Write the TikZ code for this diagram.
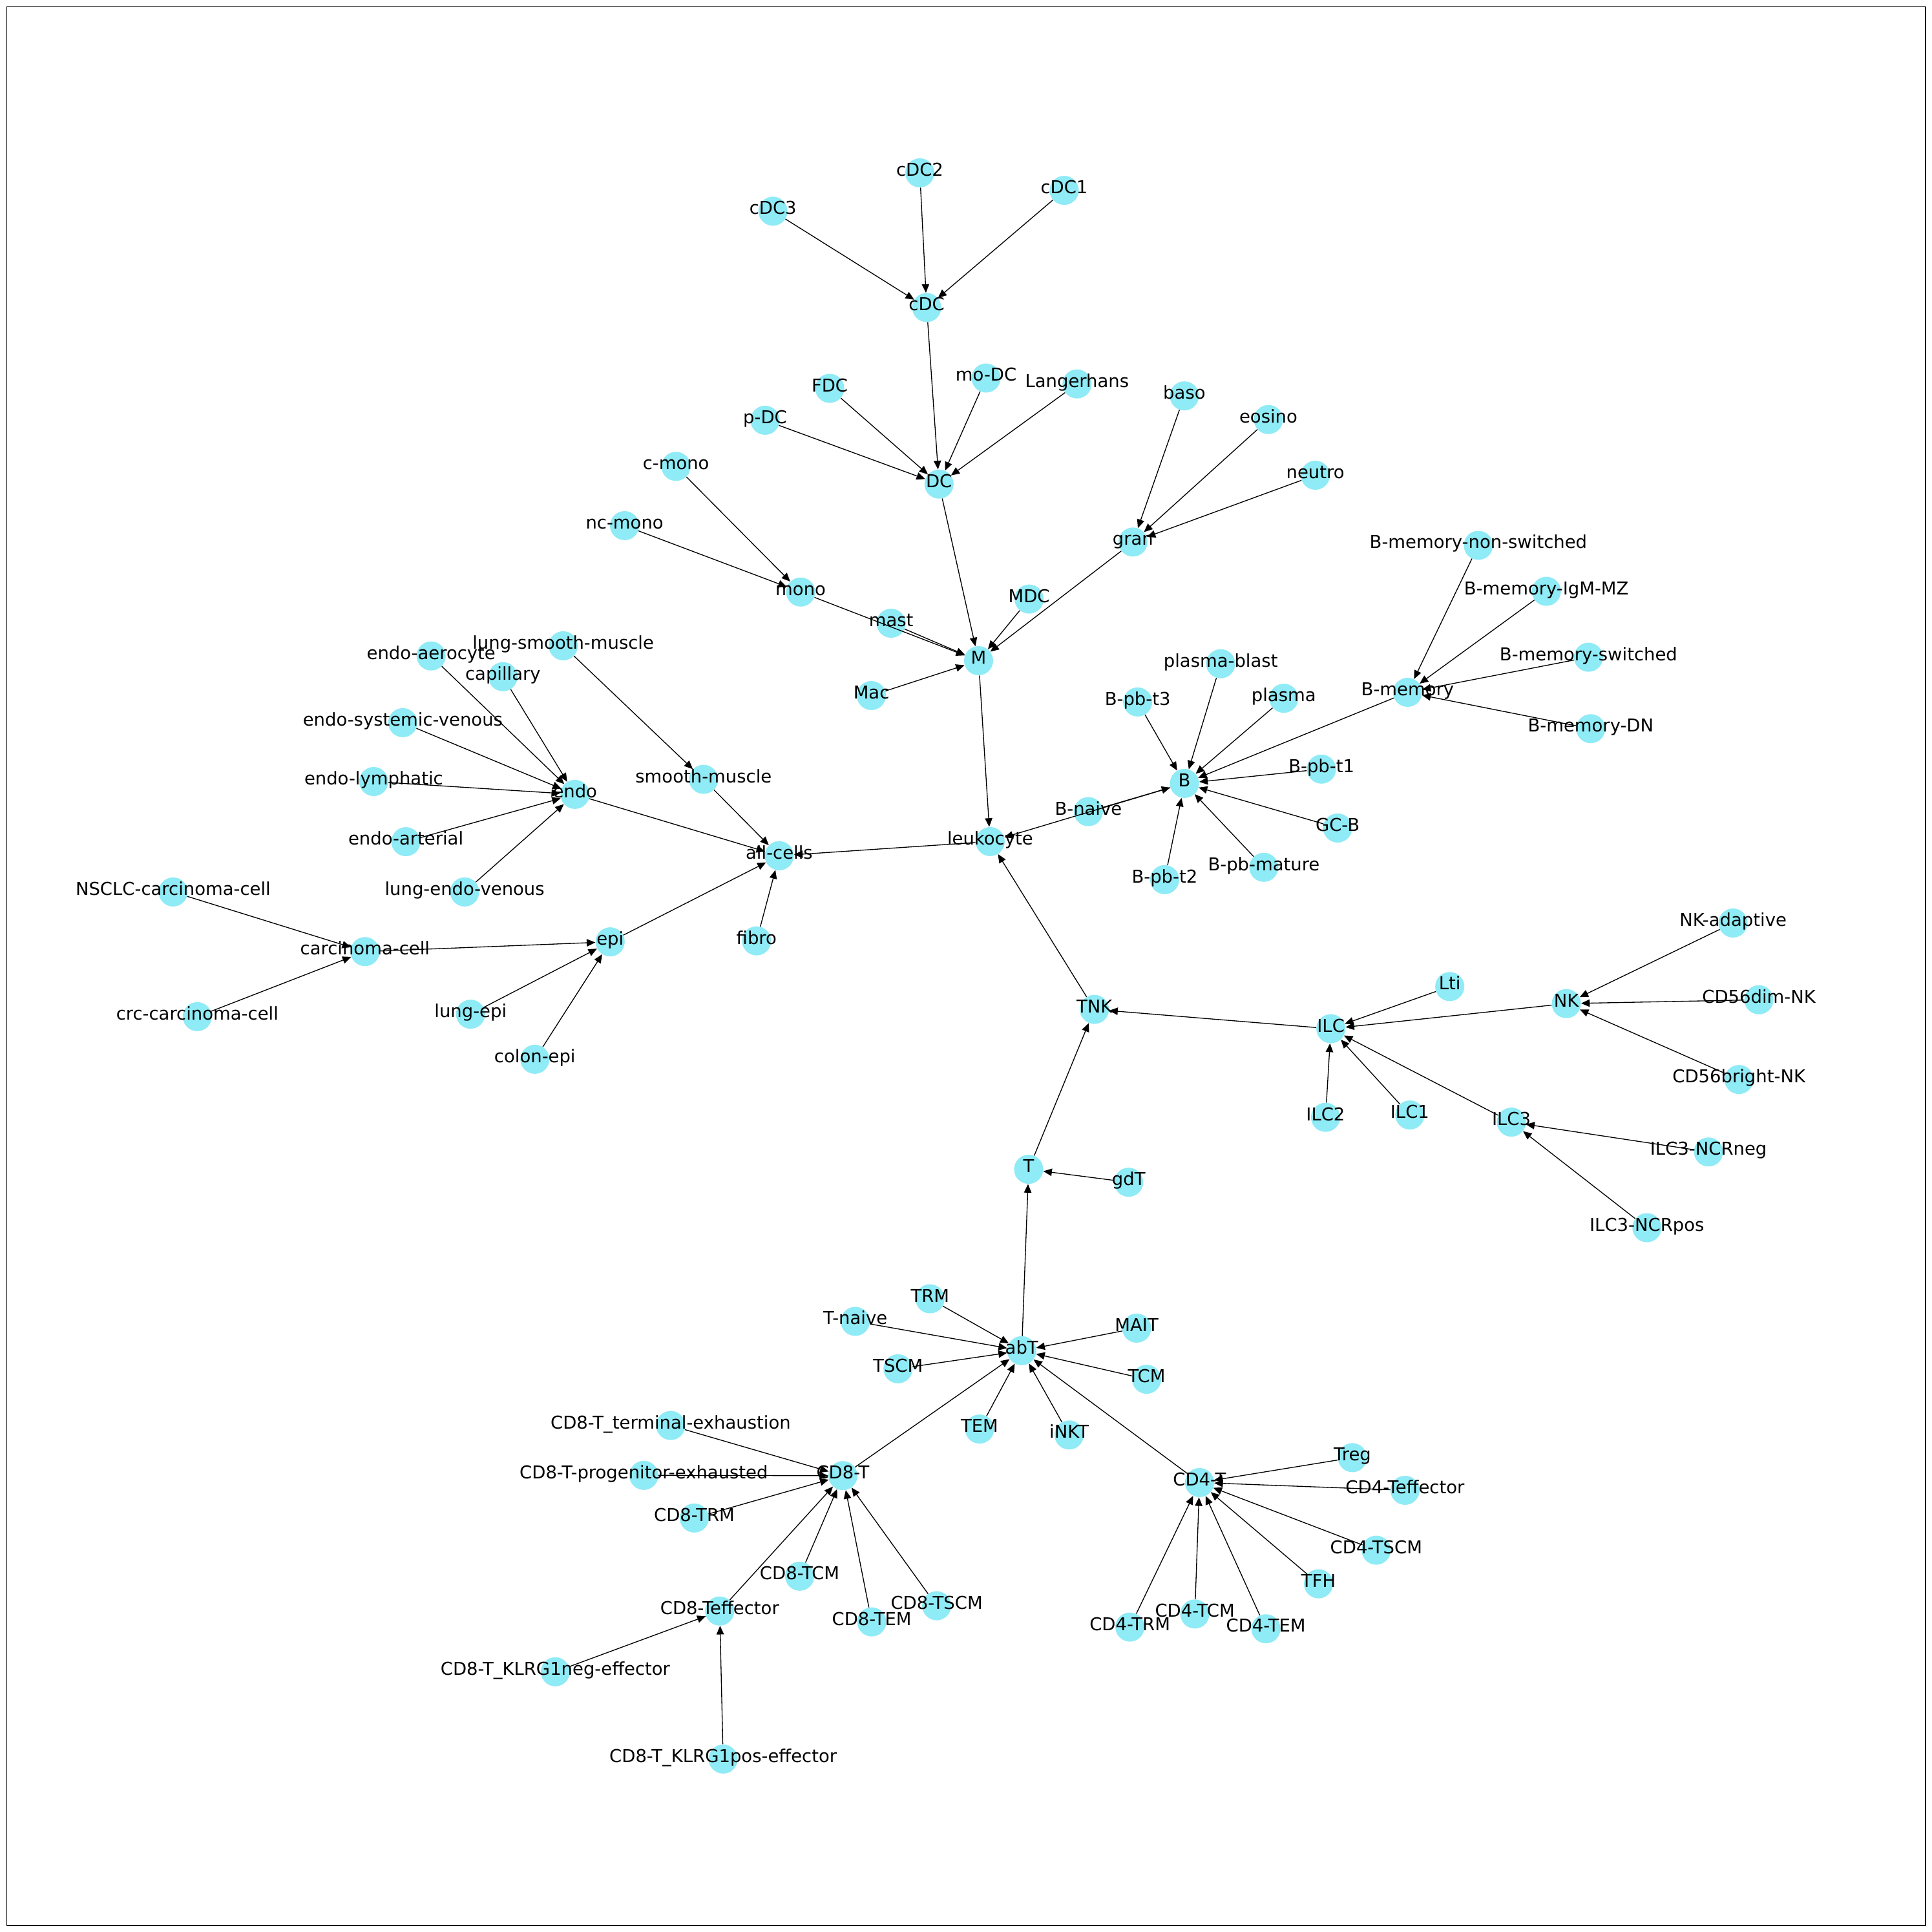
\documentclass[tikz,border=0pt]{standalone}
\usepackage{fontspec}
\setmainfont{DejaVu Sans}
\usetikzlibrary{arrows.meta}
\definecolor{nodecyan}{RGB}{143,235,245}
\begin{document}
\begin{tikzpicture}[x=1pt,y=-1pt,
  dot/.style={circle,fill=nodecyan,draw=none,minimum size=23.6pt,inner sep=0pt},
  lbl/.style={inner sep=0pt,text height=0.76em,text depth=0.24em,font=\fontsize{14.4pt}{17pt}\selectfont},
  link/.style={line width=0.7pt,-{Triangle[length=7pt,width=6pt]}},
  frame/.style={line width=0.9pt}]
\useasboundingbox[fill=white] (0,0) rectangle (1568,1568);
\draw[frame] (5.5,5.5) rectangle (1562.7,1562.7);
% nodes
\node[dot] (cDC2) at (746.5,140.3) {};
\node[dot] (cDC1) at (863.7,154.5) {};
\node[dot] (cDC3) at (627.3,171.4) {};
\node[dot] (cDC) at (752.1,249.6) {};
\node[dot] (FDC) at (673.4,315.2) {};
\node[dot] (moDC) at (800.3,306.8) {};
\node[dot] (Langerhans) at (874.1,311.6) {};
\node[dot] (pDC) at (620.9,341.1) {};
\node[dot] (DC) at (762.1,392.9) {};
\node[dot] (baso) at (961.2,321.3) {};
\node[dot] (eosino) at (1029.4,340.5) {};
\node[dot] (neutro) at (1067.5,385.7) {};
\node[dot] (gran) at (919.5,439.9) {};
\node[dot] (cmono) at (548.6,378.5) {};
\node[dot] (ncmono) at (506.9,426.6) {};
\node[dot] (mono) at (649.8,480.5) {};
\node[dot] (mast) at (723.2,505.8) {};
\node[dot] (MDC) at (835.2,486.2) {};
\node[dot] (M) at (794.2,536.2) {};
\node[dot] (Mac) at (707.2,564.5) {};
\node[dot] (Bmemns) at (1199.8,442.6) {};
\node[dot] (BmemIgM) at (1255.0,479.9) {};
\node[dot] (Bmemsw) at (1289.2,533.4) {};
\node[dot] (Bmem) at (1142.4,561.9) {};
\node[dot] (BmemDN) at (1291.0,591.4) {};
\node[dot] (plasmablast) at (990.7,538.7) {};
\node[dot] (plasma) at (1041.9,566.7) {};
\node[dot] (Bpbt3) at (923.3,569.7) {};
\node[dot] (Bpbt1) at (1072.5,624.2) {};
\node[dot] (B) at (961.3,635.8) {};
\node[dot] (GCB) at (1085.6,672.0) {};
\node[dot] (Bnaive) at (883.3,658.7) {};
\node[dot] (leuk) at (803.6,683.0) {};
\node[dot] (Bpbt2) at (945.2,713.9) {};
\node[dot] (Bpbmature) at (1025.7,703.9) {};
\node[dot] (endoaero) at (349.9,532.4) {};
\node[dot] (lungsm) at (457.1,524.1) {};
\node[dot] (capillary) at (408.2,549.2) {};
\node[dot] (endosys) at (326.9,586.5) {};
\node[dot] (endolymph) at (303.3,634.3) {};
\node[dot] (endo) at (466.6,644.7) {};
\node[dot] (smoothm) at (571.0,632.5) {};
\node[dot] (endoart) at (329.4,683.1) {};
\node[dot] (allcells) at (632.4,694.5) {};
\node[dot] (lungendoven) at (377.1,723.9) {};
\node[dot] (nsclc) at (140.5,723.9) {};
\node[dot] (carcinoma) at (296.2,772.3) {};
\node[dot] (epi) at (495.2,764.4) {};
\node[dot] (fibro) at (614.0,763.6) {};
\node[dot] (crc) at (160.1,825.1) {};
\node[dot] (lungepi) at (381.9,823.1) {};
\node[dot] (colonepi) at (434.1,859.7) {};
\node[dot] (TNK) at (888.2,819.2) {};
\node[dot] (ILC) at (1080.1,834.9) {};
\node[dot] (Lti) at (1176.6,800.7) {};
\node[dot] (NK) at (1271.2,814.5) {};
\node[dot] (NKadapt) at (1406.5,749.1) {};
\node[dot] (CDdim) at (1427.5,811.4) {};
\node[dot] (CDbright) at (1411.3,876.1) {};
\node[dot] (ILC2) at (1075.8,906.8) {};
\node[dot] (ILC1) at (1144.2,904.9) {};
\node[dot] (ILC3) at (1226.6,910.7) {};
\node[dot] (ILC3neg) at (1386.6,934.9) {};
\node[dot] (ILC3pos) at (1336.6,996.4) {};
\node[dot] (T) at (834.8,949.0) {};
\node[dot] (gdT) at (916.0,959.5) {};
\node[dot] (TRM) at (754.8,1054.1) {};
\node[dot] (Tnaive) at (694.1,1072.4) {};
\node[dot] (MAIT) at (922.5,1077.9) {};
\node[dot] (abT) at (829.2,1096.2) {};
\node[dot] (TSCM) at (728.8,1110.9) {};
\node[dot] (TCM) at (930.6,1119.4) {};
\node[dot] (TEM) at (795.0,1159.8) {};
\node[dot] (iNKT) at (867.7,1164.6) {};
\node[dot] (CD8term) at (544.3,1156.9) {};
\node[dot] (CD8prog) at (522.5,1197.4) {};
\node[dot] (CD8T) at (684.1,1197.6) {};
\node[dot] (CD8TRM) at (563.5,1232.0) {};
\node[dot] (Treg) at (1097.6,1183.0) {};
\node[dot] (CD4T) at (973.5,1203.2) {};
\node[dot] (CD4Teff) at (1140.3,1209.5) {};
\node[dot] (CD4TSCM) at (1116.9,1258.1) {};
\node[dot] (TFH) at (1070.1,1285.4) {};
\node[dot] (CD8TCM) at (649.0,1279.2) {};
\node[dot] (CD8TSCM) at (760.2,1303.2) {};
\node[dot] (CD8TEM) at (707.5,1316.3) {};
\node[dot] (CD8Teff) at (584.1,1307.5) {};
\node[dot] (CD4TRM) at (917.0,1320.5) {};
\node[dot] (CD4TCM) at (969.7,1309.9) {};
\node[dot] (CD4TEM) at (1027.4,1321.9) {};
\node[dot] (KLRGneg) at (450.7,1356.8) {};
\node[dot] (KLRGpos) at (586.9,1427.6) {};
% edges (child -> parent)
\foreach \s/\t in {cDC2/cDC, cDC1/cDC, cDC3/cDC, cDC/DC, FDC/DC, moDC/DC, Langerhans/DC, pDC/DC,
  DC/M, baso/gran, eosino/gran, neutro/gran, gran/M, cmono/mono, ncmono/mono, mono/M, mast/M, MDC/M, Mac/M,
  M/leuk, Bmemns/Bmem, BmemIgM/Bmem, Bmemsw/Bmem, BmemDN/Bmem, Bmem/B, plasmablast/B, plasma/B,
  Bpbt3/B, Bpbt1/B, GCB/B, Bnaive/B, Bpbt2/B, Bpbmature/B, B/leuk, leuk/allcells,
  endoaero/endo, capillary/endo, endosys/endo, endolymph/endo, endoart/endo, lungendoven/endo,
  endo/allcells, lungsm/smoothm, smoothm/allcells, nsclc/carcinoma, crc/carcinoma, carcinoma/epi,
  lungepi/epi, colonepi/epi, epi/allcells, fibro/allcells, TNK/leuk, ILC/TNK, Lti/ILC, NK/ILC,
  NKadapt/NK, CDdim/NK, CDbright/NK, ILC2/ILC, ILC1/ILC, ILC3/ILC, ILC3neg/ILC3, ILC3pos/ILC3,
  T/TNK, gdT/T, abT/T, TRM/abT, Tnaive/abT, MAIT/abT, TSCM/abT, TCM/abT, TEM/abT, iNKT/abT,
  CD8T/abT, CD4T/abT, CD8term/CD8T, CD8prog/CD8T, CD8TRM/CD8T, CD8TCM/CD8T, CD8TEM/CD8T,
  CD8TSCM/CD8T, CD8Teff/CD8T, KLRGneg/CD8Teff, KLRGpos/CD8Teff, Treg/CD4T, CD4Teff/CD4T,
  CD4TSCM/CD4T, TFH/CD4T, CD4TRM/CD4T, CD4TCM/CD4T, CD4TEM/CD4T}
  \draw[link] (\s) -- (\t);
% labels
\foreach \n/\t in {cDC2/cDC2, cDC1/cDC1, cDC3/cDC3, cDC/cDC, FDC/FDC, moDC/mo-DC, Langerhans/Langerhans,
  pDC/p-DC, DC/DC, baso/baso, eosino/eosino, neutro/neutro, gran/gran, cmono/c-mono, ncmono/nc-mono,
  mono/mono, mast/mast, MDC/MDC, M/M, Mac/Mac, Bmemns/B-memory-non-switched, BmemIgM/B-memory-IgM-MZ,
  Bmemsw/B-memory-switched, Bmem/B-memory, BmemDN/B-memory-DN, plasmablast/plasma-blast, plasma/plasma,
  Bpbt3/B-pb-t3, Bpbt1/B-pb-t1, B/B, GCB/GC-B, Bnaive/B-naive, leuk/leukocyte, Bpbt2/B-pb-t2,
  Bpbmature/B-pb-mature, endoaero/endo-aerocyte, lungsm/lung-smooth-muscle, capillary/capillary,
  endosys/endo-systemic-venous, endolymph/endo-lymphatic, endo/endo, smoothm/smooth-muscle,
  endoart/endo-arterial, allcells/all-cells, lungendoven/lung-endo-venous, nsclc/NSCLC-carcinoma-cell,
  carcinoma/carcinoma-cell, epi/epi, fibro/fibro, crc/crc-carcinoma-cell, lungepi/lung-epi,
  colonepi/colon-epi, TNK/TNK, ILC/ILC, Lti/Lti, NK/NK, NKadapt/NK-adaptive, CDdim/CD56dim-NK,
  CDbright/CD56bright-NK, ILC2/ILC2, ILC1/ILC1, ILC3/ILC3, ILC3neg/ILC3-NCRneg, ILC3pos/ILC3-NCRpos,
  T/T, gdT/gdT, TRM/TRM, Tnaive/T-naive, MAIT/MAIT, abT/abT, TSCM/TSCM, TCM/TCM, TEM/TEM, iNKT/iNKT,
  CD8term/CD8-T\_terminal-exhaustion, CD8prog/CD8-T-progenitor-exhausted, CD8T/CD8-T, CD8TRM/CD8-TRM,
  Treg/Treg, CD4T/CD4-T, CD4Teff/CD4-Teffector, CD4TSCM/CD4-TSCM, TFH/TFH, CD8TCM/CD8-TCM,
  CD8TSCM/CD8-TSCM, CD8TEM/CD8-TEM, CD8Teff/CD8-Teffector, CD4TRM/CD4-TRM, CD4TCM/CD4-TCM,
  CD4TEM/CD4-TEM, KLRGneg/CD8-T\_KLRG1neg-effector, KLRGpos/CD8-T\_KLRG1pos-effector}
  \node[lbl] (\n-l) at (\n) {\t};
\end{tikzpicture}
\end{document}
